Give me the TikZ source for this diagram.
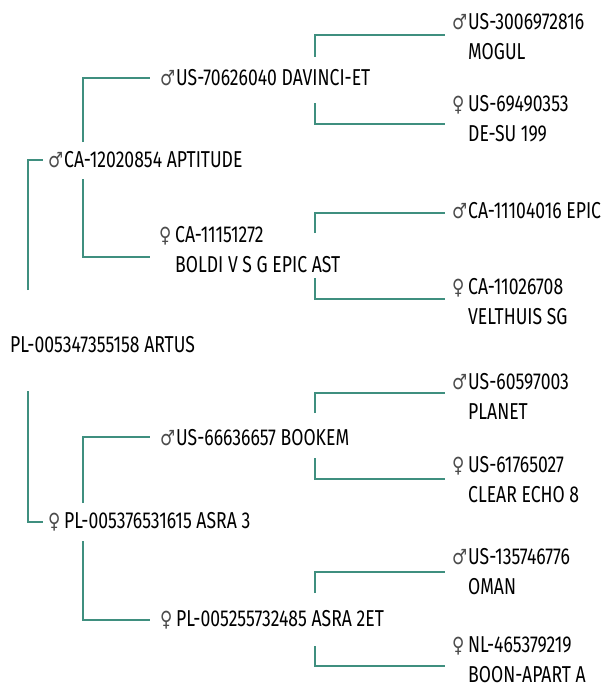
\documentclass[tikz,border=0pt]{standalone}
\usepackage{fontspec}
\setmainfont{Fira Sans}[FakeStretch=0.765]
\newfontfamily\symfont{DejaVu Sans}[FakeStretch=0.8]
\definecolor{linkc}{HTML}{3F8F7F}
\newcommand{\mysire}{\makebox[16pt][l]{\symfont\fontsize{21}{21}\selectfont\color{black!70}♂}}
\newcommand{\mydam}{\makebox[16pt][l]{\symfont\fontsize{21}{21}\selectfont\color{black!70}♀}}
\newcommand{\myind}{\hspace*{16pt}}
\tikzset{
  lbl/.style={anchor=west, inner sep=0pt, align=left, font=\fontsize{23}{30}\selectfont, text=black},
  link/.style={draw=linkc, line width=2pt},
}
\begin{document}
\begin{tikzpicture}[x=1pt,y=-1pt]
\useasboundingbox (0,0) rectangle (602,693);
% nodes
\node[lbl] (root) at (10,345) {PL-005347355158 ARTUS};
\node[lbl] (aptitude) at (48,160) {\mysire CA-12020854 APTITUDE};
\node[lbl] (davinci) at (160,78) {\mysire US-70626040 DAVINCI-ET};
\node[lbl] (boldi) at (159,250) {\mydam CA-11151272\\\myind BOLDI V S G EPIC AST};
\node[lbl] (mogul) at (452,37) {\mysire US-3006972816\\\myind MOGUL};
\node[lbl] (desu) at (452,119) {\mydam US-69490353\\\myind DE-SU 199};
\node[lbl] (epic) at (452,211) {\mysire CA-11104016 EPIC};
\node[lbl] (velthuis) at (452,301.5) {\mydam CA-11026708\\\myind VELTHUIS SG};
\node[lbl] (asra3) at (48,522) {\mydam PL-005376531615 ASRA 3};
\node[lbl] (bookem) at (160,438) {\mysire US-66636657 BOOKEM};
\node[lbl] (asra2et) at (160,620) {\mydam PL-005255732485 ASRA 2ET};
\node[lbl] (planet) at (452,396) {\mysire US-60597003\\\myind PLANET};
\node[lbl] (clear) at (452,479.5) {\mydam US-61765027\\\myind CLEAR ECHO 8};
\node[lbl] (oman) at (452,571.5) {\mysire US-135746776\\\myind OMAN};
\node[lbl] (boon) at (452,659.5) {\mydam NL-465379219\\\myind BOON-APART A};
% connectors
\draw[link] ([xshift=18pt,yshift=55pt]root.west) |- ([xshift=-5pt]aptitude.west);
\draw[link] ([xshift=18pt,yshift=-46pt]root.west) |- ([xshift=-5pt]asra3.west);
\draw[link] ([xshift=35pt,yshift=18pt]aptitude.west) |- ([xshift=-10pt]davinci.west);
\draw[link] ([xshift=35pt,yshift=-19pt]aptitude.west) |- ([xshift=-9pt,yshift=-7pt]boldi.west);
\draw[link] ([xshift=155pt,yshift=21pt]davinci.west) |- ([xshift=-7pt,yshift=2pt]mogul.west);
\draw[link] ([xshift=155pt,yshift=-25pt]davinci.west) |- ([xshift=-7pt,yshift=-5pt]desu.west);
\draw[link] ([xshift=156pt,yshift=17pt]boldi.west) |- ([xshift=-7pt,yshift=-2pt]epic.west);
\draw[link] ([xshift=156pt,yshift=-28pt]boldi.west) |- ([xshift=-7pt,yshift=2.5pt]velthuis.west);
\draw[link] ([xshift=35pt,yshift=19pt]asra3.west) |- ([xshift=-10pt,yshift=1pt]bookem.west);
\draw[link] ([xshift=35pt,yshift=-19pt]asra3.west) |- ([xshift=-10pt]asra2et.west);
\draw[link] ([xshift=155pt,yshift=25pt]bookem.west) |- ([xshift=-7pt,yshift=3pt]planet.west);
\draw[link] ([xshift=155pt,yshift=-20pt]bookem.west) |- ([xshift=-7pt,yshift=0.5pt]clear.west);
\draw[link] ([xshift=155pt,yshift=27pt]asra2et.west) |- ([xshift=-7pt,yshift=-0.5pt]oman.west);
\draw[link] ([xshift=155pt,yshift=-26pt]asra2et.west) |- ([xshift=-7pt,yshift=-6.5pt]boon.west);
\end{tikzpicture}
\end{document}
